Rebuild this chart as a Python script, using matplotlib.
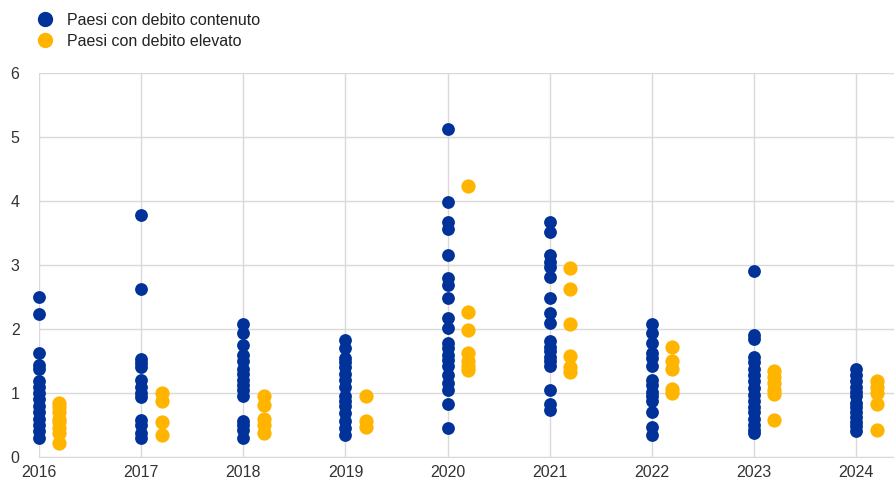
import matplotlib
matplotlib.use('Agg')
import matplotlib.pyplot as plt
from matplotlib.lines import Line2D

plt.rcParams['font.family'] = ['Liberation Sans', 'DejaVu Sans']

# Values
years = [2016, 2017, 2018, 2019, 2020, 2021, 2022, 2023, 2024]

low_debt = [
    [2.5, 2.24, 1.62, 1.44, 1.37, 1.18, 1.1, 1.0, 0.9, 0.8, 0.7, 0.6, 0.5, 0.4, 0.3],
    [3.78, 2.62, 1.53, 1.47, 1.4, 1.2, 1.1, 1.0, 0.93, 0.58, 0.5, 0.37, 0.3],
    [2.08, 1.93, 1.75, 1.6, 1.5, 1.38, 1.3, 1.2, 1.12, 1.05, 0.95, 0.57, 0.5, 0.42, 0.3],
    [1.83, 1.7, 1.55, 1.48, 1.4, 1.3, 1.2, 1.1, 0.95, 0.88, 0.8, 0.68, 0.57, 0.45, 0.35],
    [5.12, 3.99, 3.67, 3.57, 3.16, 2.8, 2.68, 2.48, 2.17, 2.02, 1.78, 1.7, 1.6, 1.52,
     1.42, 1.28, 1.15, 1.05, 0.83, 0.45],
    [3.67, 3.52, 3.15, 3.05, 2.97, 2.82, 2.48, 2.25, 2.1, 1.82, 1.72, 1.65, 1.57, 1.5,
     1.42, 1.05, 0.83, 0.73],
    [2.08, 1.93, 1.78, 1.63, 1.55, 1.42, 1.2, 1.12, 1.02, 0.95, 0.88, 0.7, 0.47, 0.35],
    [2.9, 1.9, 1.84, 1.57, 1.48, 1.38, 1.28, 1.18, 1.08, 0.97, 0.88, 0.78, 0.7, 0.6,
     0.5, 0.42, 0.38],
    [1.38, 1.28, 1.18, 1.1, 1.02, 0.95, 0.85, 0.78, 0.7, 0.62, 0.55, 0.48, 0.4],
]

high_debt = [
    [0.85, 0.78, 0.7, 0.6, 0.55, 0.45, 0.38, 0.22],
    [1.0, 0.88, 0.55, 0.34],
    [0.95, 0.82, 0.6, 0.5, 0.37],
    [0.95, 0.57, 0.47],
    [4.23, 2.26, 1.99, 1.62, 1.5, 1.42, 1.36],
    [2.95, 2.63, 2.08, 1.58, 1.4, 1.33],
    [1.72, 1.5, 1.37, 1.07, 1.0],
    [1.35, 1.25, 1.15, 1.05, 0.98, 0.58],
    [1.18, 1.1, 1.0, 0.83, 0.42],
]

labels = ['Paesi con debito contenuto', 'Paesi con debito elevato']
blue = '#003299'
orange = '#FFB400'
offset = 0.2

fig = plt.figure(figsize=(8.95, 4.82), dpi=100)
ax = fig.add_axes([39 / 895, 1 - 457 / 482, 1 - 39 / 895, (457 - 73) / 482])

for yr, vals in zip(years, low_debt):
    ax.scatter([yr] * len(vals), vals, s=85, color=blue, linewidths=0, zorder=3,
               clip_on=False)
for yr, vals in zip(years, high_debt):
    ax.scatter([yr + offset] * len(vals), vals, s=105, color=orange, linewidths=0,
               zorder=3, clip_on=False)

ax.set_xlim(2016, 2024.38)
ax.set_ylim(0, 6)
ax.set_xticks(years)
ax.set_yticks(range(0, 7))
ax.grid(True, color='#d9d9d9', linewidth=1)
ax.set_axisbelow(True)
for s in ['top', 'right', 'left']:
    ax.spines[s].set_visible(False)
ax.spines['bottom'].set_color('#d9d9d9')
ax.tick_params(length=0, labelsize=11.5, colors='#333333')
ax.tick_params(axis='y', pad=14)
ax.tick_params(axis='x', pad=6)

handles = [Line2D([], [], marker='o', linestyle='', markersize=10, color=blue),
           Line2D([], [], marker='o', linestyle='', markersize=10, color=orange)]
fig.legend(handles, labels, loc='upper left', bbox_to_anchor=(0.0288, 0.997),
           frameon=False, fontsize=11.5, handletextpad=0.9, labelspacing=0.4,
           handlelength=1.0, borderaxespad=0.3, labelcolor='#222222')

fig.savefig('out.png', dpi=100)
